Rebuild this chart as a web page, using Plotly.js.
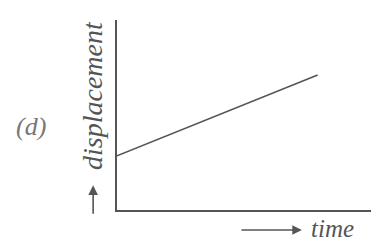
<!DOCTYPE html>
<html>
<head>
<meta charset="utf-8">
<script src="https://cdn.plot.ly/plotly-3.0.1.min.js"></script>
<style>html,body{margin:0;padding:0;background:#fff;}#chart{width:371px;height:243px;}</style>
</head>
<body>
<div id="chart"></div>
<script>
// Data (arbitrary units)
const time = [0, 7.9];
const displacement = [2.85, 7.1];
const xLabel = "time";
const yLabel = "displacement";
const panelLabel = "(d)";

const ink = "#555555";
const serif = "Liberation Serif, DejaVu Serif, serif";
const fontItalic = {family: serif, size: 28, color: ink, style: "italic"};

const trace = {
  x: time, y: displacement, mode: "lines",
  line: {color: ink, width: 1.6},
  hoverinfo: "skip", showlegend: false
};

const layout = {
  width: 371, height: 243,
  margin: {l: 117, r: 0, t: 20, b: 33},
  paper_bgcolor: "#fff", plot_bgcolor: "#fff",
  xaxis: {range: [0, 10], showline: true, linecolor: ink, linewidth: 2,
          showgrid: false, zeroline: false, showticklabels: false, ticks: ""},
  yaxis: {range: [0, 10], showline: true, linecolor: ink, linewidth: 2,
          showgrid: false, zeroline: false, showticklabels: false, ticks: ""},
  annotations: [
    {xref: "paper", yref: "paper", x: -0.0984, y: 0.60, text: yLabel, textangle: -90,
     showarrow: false, font: fontItalic, xanchor: "center", yanchor: "middle"},
    {xref: "paper", yref: "paper", x: -0.339, y: 0.437, text: panelLabel,
     showarrow: false, font: {family: serif, size: 26, color: "#777", style: "italic"},
     xanchor: "center", yanchor: "middle"},
    {xref: "paper", yref: "paper", x: 0.85, y: 0, yshift: -18, text: xLabel,
     showarrow: false, borderpad: 0, font: {family: serif, size: 25, color: ink, style: "italic"},
     xanchor: "center", yanchor: "middle"},
    // arrow under time
    {xref: "paper", yref: "paper", x: 0.728, y: 0, yshift: -20, ax: -62, ay: 0, text: "",
     showarrow: true, arrowhead: 2, arrowsize: 1.2, arrowwidth: 1.6, arrowcolor: ink},
    // up arrow beside displacement
    {xref: "paper", yref: "paper", x: -0.094, y: 0.13, ax: 0, ay: 30, text: "",
     showarrow: true, arrowhead: 2, arrowsize: 1.2, arrowwidth: 1.6, arrowcolor: ink}
  ]
};

Plotly.newPlot("chart", [trace], layout, {staticPlot: true, displayModeBar: false});
</script>
</body>
</html>
